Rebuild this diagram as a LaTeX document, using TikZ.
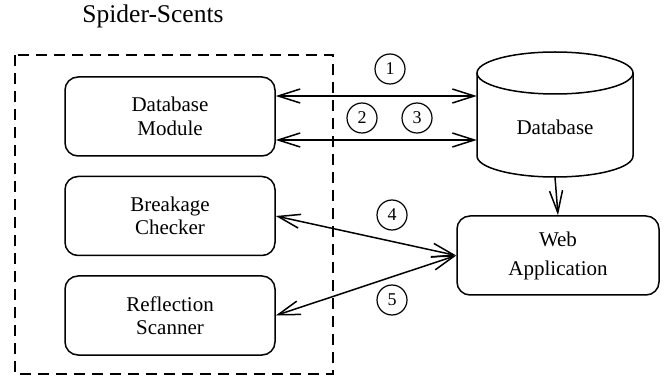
\documentclass[tikz,border=0pt]{standalone}
\usepackage{fontspec}
\setmainfont{Liberation Serif}
\usetikzlibrary{arrows.meta,calc}
\begin{document}
\begin{tikzpicture}[x=1pt,y=-1pt,
  box/.style={draw, line width=1.5pt, rounded corners=13pt, minimum width=210pt, minimum height=79pt, inner sep=0pt, align=center, font=\fontsize{21}{23.5}\selectfont},
  num/.style={draw, circle, line width=1.2pt, minimum size=30pt, inner sep=0pt, font=\fontsize{18}{18}\selectfont},
  barb/.style={Straight Barb[length=22pt,width=14pt]},
  link/.style={line width=1.5pt, {Straight Barb[length=22pt,width=14pt]}-{Straight Barb[length=22pt,width=14pt]}}]
\useasboundingbox (0,0) rectangle (672,379);
\node[font=\fontsize{25.5}{25.5}\selectfont] (title) at (153,16) {Spider-Scents};
\draw[line width=1.5pt, dash pattern=on 11pt off 7pt] (15,55) rectangle (333,374);
\node[box] (dbm) at (170,116.5) {Database\\Module};
\node[box] (bc) at (170,216) {Breakage\\Checker};
\node[box] (rs) at (170,315.5) {Reflection\\Scanner};
\node[box, minimum width=202pt, font=\fontsize{21}{29}\selectfont] (web) at (558,255.5) {Web\\Application};
% cylinder
\draw[line width=1.5pt] (477,73) -- (477,156) arc[start angle=180, end angle=0, x radius=78, y radius=21] -- (633,73);
\draw[line width=1.5pt] (555,73) ellipse[x radius=78, y radius=21];
\node[minimum width=156pt, minimum height=125pt, inner sep=0pt] (db) at (555,114.5) {};
\node[font=\fontsize{21}{23}\selectfont] (dbtext) at (555,127) {Database};
\coordinate (a1) at ($(dbm.east)+(0,-20.5)$);
\coordinate (a2) at ($(dbm.east)+(0,23.5)$);
\draw[link] (a1) -- (db.west |- a1);
\draw[link] (a2) -- (db.west |- a2);
\draw[line width=1.5pt, -{Straight Barb[length=22pt,width=13pt]}] (db.south) -- (web.north);
\draw[link] (bc.east) -- (web.west);
\draw[link] (rs.east) -- (web.west);
\node[num] (n1) at (390,69) {1};
\node[num] (n2) at (362,118) {2};
\node[num] (n3) at (417,118) {3};
\node[num] (n4) at (392,215) {4};
\node[num] (n5) at (392,300) {5};
\end{tikzpicture}
\end{document}
